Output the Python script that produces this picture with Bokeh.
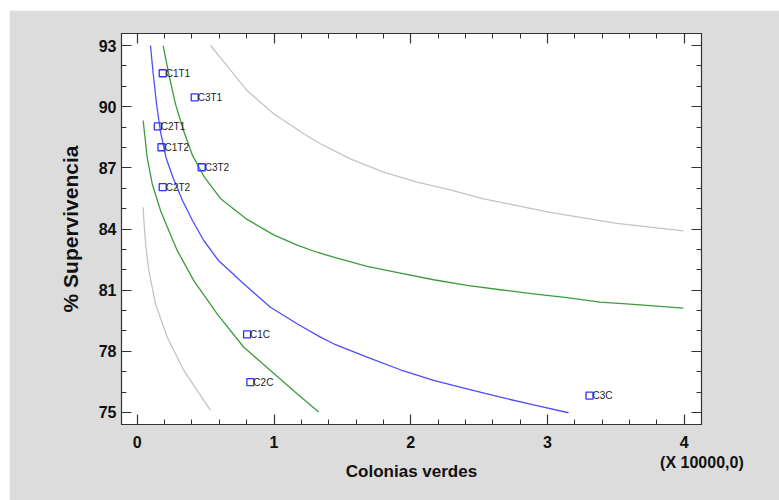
from bokeh.plotting import figure
from bokeh.models import FixedTicker, LinearAxis, Range1d
from bokeh.core.properties import value
from bokeh.embed import file_html
from bokeh.resources import INLINE

# ---- data (x in units of 10000) ----
pt_names = ["C1T1", "C3T1", "C2T1", "C1T2", "C3T2", "C2T2", "C1C", "C2C", "C3C"]
pt_x = [0.186, 0.420, 0.150, 0.177, 0.471, 0.186, 0.803, 0.827, 3.308]
pt_y = [91.64, 90.46, 89.03, 88.01, 87.03, 86.05, 78.83, 76.49, 75.83]

fit_x = [0.0965, 0.1162, 0.1404, 0.1681, 0.2098, 0.2610, 0.3304, 0.4035, 0.4861, 0.5936,
         0.7785, 0.9737, 1.1689, 1.3392, 1.4364, 1.6806, 1.9240, 2.1674, 2.4115, 2.6550,
         2.8984, 3.1542]
fit_y = [93.0, 91.627, 90.156, 88.831, 87.507, 86.526, 85.398, 84.417, 83.436, 82.455,
         81.312, 80.164, 79.351, 78.693, 78.370, 77.713, 77.095, 76.570, 76.163, 75.751,
         75.369, 74.986]

conf_up_x = [0.189, 0.230, 0.279, 0.338, 0.404, 0.491, 0.608, 0.803, 0.998, 1.169,
             1.315, 1.436, 1.681, 1.924, 2.167, 2.412, 2.655, 2.898, 3.143, 3.386, 3.629, 3.995]
conf_up_y = [93.0, 91.61, 90.14, 88.83, 87.61, 86.54, 85.50, 84.47, 83.71, 83.21,
             82.86, 82.62, 82.17, 81.83, 81.51, 81.23, 81.02, 80.82, 80.63, 80.41, 80.30, 80.12]

conf_lo_x = [0.043, 0.072, 0.109, 0.170, 0.230, 0.292, 0.413, 0.584, 0.779, 0.974, 1.169, 1.327]
conf_lo_y = [89.32, 87.52, 86.22, 84.91, 83.93, 82.95, 81.47, 79.84, 78.20, 77.06, 75.92, 75.02]

pred_up_x = [0.535, 0.657, 0.803, 0.998, 1.217, 1.339, 1.558, 1.802, 2.046, 2.289, 2.533,
             2.777, 3.020, 3.264, 3.508, 3.751, 3.995]
pred_up_y = [93.0, 92.00, 90.79, 89.65, 88.67, 88.18, 87.44, 86.79, 86.30, 85.92, 85.48,
             85.15, 84.82, 84.55, 84.28, 84.09, 83.91]

pred_lo_x = [0.043, 0.048, 0.062, 0.084, 0.133, 0.219, 0.340, 0.535]
pred_lo_y = [85.07, 84.42, 83.20, 81.97, 80.33, 78.69, 77.06, 75.10]

x_ticks = [0, 1, 2, 3, 4]
y_ticks = [75, 78, 81, 84, 87, 90, 93]
x_minor = [i / 5 for i in range(0, 21)]
y_minor = list(range(75, 94))
x_scale_note = "(X 10000,0)"

FONT = "Liberation Sans"
BG = "#dcdcdc"
AX = "#333333"
TXT = "#111111"

p = figure(width=770, height=490, output_backend="svg", toolbar_location=None,
           x_range=Range1d(-0.1155, 4.127), y_range=Range1d(74.41, 93.59),
           x_axis_location=None, y_axis_location=None,
           min_border_left=112, min_border_right=78, min_border_top=23, min_border_bottom=76,
           background_fill_color="white", border_fill_color=BG,
           margin=(10, 0, 0, 9))
p.grid.visible = False
p.outline_line_color = AX
p.outline_line_width = 1.2

def make_axis(ticks, minor, labels_on):
    ax = LinearAxis(ticker=FixedTicker(ticks=ticks, minor_ticks=minor))
    ax.axis_line_color = AX
    ax.major_tick_line_color = AX
    ax.minor_tick_line_color = AX
    ax.major_tick_in = 10
    ax.major_tick_out = 0
    ax.minor_tick_in = 5
    ax.minor_tick_out = 0
    ax.major_tick_line_width = 1.2
    ax.minor_tick_line_width = 1
    if labels_on:
        ax.major_label_text_font = FONT
        ax.major_label_text_font_style = "bold"
        ax.major_label_text_font_size = "16px"
        ax.major_label_text_color = TXT
    else:
        ax.major_label_text_font_size = "0px"
        ax.major_label_text_color = None
    return ax

xb = make_axis(x_ticks, x_minor, True)
xb.major_label_overrides = {4: "4\n" + "\u00a0" * 8 + x_scale_note}
xb.axis_label = "Colonias verdes"
xb.axis_label_text_font = FONT
xb.axis_label_text_font_style = "bold"
xb.axis_label_text_font_size = "17px"
xb.axis_label_text_color = TXT
xb.major_label_standoff = 9
xb.axis_label_standoff = -12
p.add_layout(xb, "below")

yl = make_axis(y_ticks, y_minor, True)
yl.axis_label = "% Supervivencia"
yl.axis_label_text_font = FONT
yl.axis_label_text_font_style = "bold"
yl.axis_label_text_font_size = "21px"
yl.axis_label_text_color = TXT
yl.major_label_standoff = 5
yl.axis_label_standoff = 14
p.add_layout(yl, "left")

p.add_layout(make_axis(x_ticks, x_minor, False), "above")
p.add_layout(make_axis(y_ticks, y_minor, False), "right")

GRAY = "#c4c4c4"
GREEN = "#3c9c3c"
BLUE = "#4d4dff"
p.line(pred_up_x, pred_up_y, line_color=GRAY, line_width=1.3, line_join="round")
p.line(pred_lo_x, pred_lo_y, line_color=GRAY, line_width=1.3, line_join="round")
p.line(conf_up_x, conf_up_y, line_color=GREEN, line_width=1.3, line_join="round")
p.line(conf_lo_x, conf_lo_y, line_color=GREEN, line_width=1.3, line_join="round")
p.line(fit_x, fit_y, line_color=BLUE, line_width=1.3, line_join="round")

p.scatter(pt_x, pt_y, marker="square", size=7, fill_color=None,
          line_color="#3030ff", line_width=1.3)
p.text(pt_x, pt_y, text=pt_names, x_offset=3, text_baseline="middle",
       text_align="left", text_font=value(FONT),
       text_font_size="10px", text_color="#222222")

open("out.html", "w").write(file_html(p, INLINE))
